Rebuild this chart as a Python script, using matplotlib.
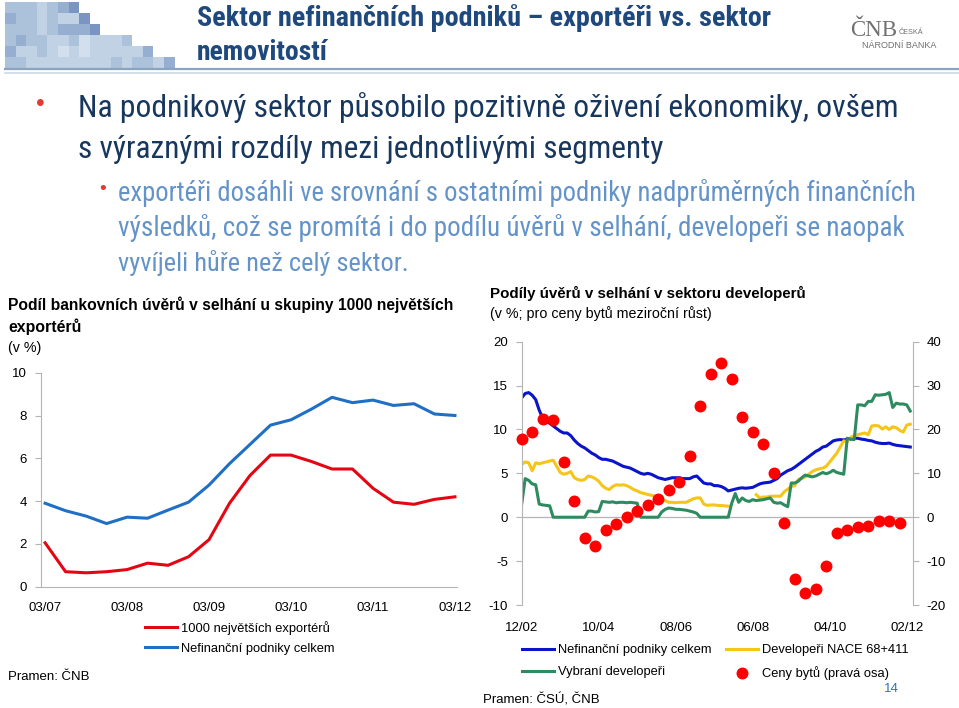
import numpy as np
import matplotlib.pyplot as plt
from matplotlib import font_manager
from matplotlib.patches import Rectangle
from matplotlib.lines import Line2D

W, H = 959, 708

# left chart - quarterly, 03/07 .. 03/12
q_ticks = ["03/07", "03/08", "03/09", "03/10", "03/11", "03/12"]
exporters = [2.05, 0.7, 0.65, 0.7, 0.8, 1.1, 1.0, 1.4, 2.2, 3.9, 5.2, 6.15, 6.15,
             5.85, 5.5, 5.5, 4.6, 3.95, 3.85, 4.08, 4.2]
nfc_total_q = [3.9, 3.55, 3.3, 2.95, 3.25, 3.2, 3.58, 3.95, 4.75, 5.75, 6.65, 7.55,
               7.8, 8.3, 8.85, 8.6, 8.72, 8.47, 8.55, 8.07, 8.0]

# right chart - monthly from 12/02
m_ticks = ["12/02", "10/04", "08/06", "06/08", "04/10", "02/12"]
nfc_total_m = [13.6, 14.1, 14.2, 13.9, 13.4, 12.2, 11.3, 10.9, 10.7, 10.4,
               10.1, 9.8, 9.6, 9.6, 9.3, 8.8, 8.4, 8.1, 7.9, 7.6,
               7.3, 7.1, 6.8, 6.6, 6.6, 6.5, 6.4, 6.2, 6.0, 5.8,
               5.7, 5.6, 5.4, 5.2, 5.0, 4.9, 5.0, 4.9, 4.7, 4.5,
               4.4, 4.3, 4.4, 4.5, 4.5, 4.5, 4.4, 4.4, 4.4, 4.6,
               4.7, 4.3, 3.9, 3.8, 3.8, 3.6, 3.6, 3.5, 3.3, 3.0,
               3.1, 3.2, 3.3, 3.35, 3.3, 3.35, 3.4, 3.6, 3.8, 3.9,
               3.95, 4.0, 4.2, 4.4, 4.8, 5.05, 5.3, 5.45, 5.7, 6.0,
               6.3, 6.6, 6.9, 7.2, 7.5, 7.7, 8.0, 8.1, 8.4, 8.7,
               8.8, 8.85, 8.8, 8.9, 8.9, 9.0, 9.0, 8.9, 8.85, 8.75,
               8.7, 8.55, 8.45, 8.4, 8.4, 8.45, 8.3, 8.2, 8.15, 8.1,
               8.05, 8.0]
nace = [6.0, 6.3, 6.2, 5.3, 6.2, 6.1, 6.2, 6.3, 6.4, 6.5,
        5.8, 5.1, 4.9, 5.0, 5.2, 4.5, 4.3, 4.2, 4.3, 4.7,
        4.6, 4.4, 4.1, 3.6, 3.3, 3.15, 3.5, 3.7, 3.65, 3.7,
        3.6, 3.4, 3.15, 3.0, 2.8, 2.7, 2.6, 2.5, 2.4, 2.2,
        2.0, 1.9, 1.7, 1.7, 1.65, 1.7, 1.7, 1.7, 1.9, 2.1,
        2.2, 2.2, 1.5, 1.35, 1.4, 1.4, 1.35, 1.33, 1.3, 1.26,
        np.nan, np.nan, np.nan, np.nan, np.nan, np.nan, np.nan, 2.57, 2.2, 2.3,
        2.3, 2.4, 2.4, 2.4, 2.4, 2.9, 3.2, 3.5, 3.6, 4.3,
        4.4, 4.6, 4.9, 5.2, 5.4, 5.5, 5.6, 5.8, 6.3, 6.8,
        7.3, 8.0, 8.7, 8.6, 9.1, 9.3, 9.4, 9.5, 9.6, 9.4,
        10.4, 10.45, 10.4, 10.05, 10.3, 10.0, 10.3, 10.2, 9.9, 9.7,
        10.5, 10.6]
selected = [1.5, 4.4, 4.2, 3.8, 3.7, 1.5, 1.4, 1.35, 1.3, 0,
            0, 0, 0, 0, 0, 0, 0, 0, 0, 0.7,
            0.7, 0.6, 0.65, 1.8, 1.75, 1.7, 1.75, 1.65, 1.7, 1.7,
            1.65, 1.7, 1.65, 1.6, 0, 0, 0, 0, 0, 0,
            0.6, 0.9, 1.05, 1.0, 0.9, 0.9, 0.85, 0.8, 0.7, 0.6,
            0.45, 0, 0, 0, 0, 0, 0, 0, 0, 0,
            1.6, 2.7, 1.7, 2.2, 1.9, 1.8, 2.0, 1.9, 1.95, 2.0,
            2.1, 2.2, 1.7, 1.6, 1.65, 1.4, 1.2, 3.9, 3.9, 4.1,
            4.5, 4.8, 4.7, 4.6, 4.7, 4.9, 5.1, 4.95, 5.1, 5.35,
            5.1, 5.0, 4.9, 9.0, 8.9, 8.85, 12.8, 12.8, 12.7, 13.2,
            13.2, 13.95, 13.9, 13.95, 14.0, 14.2, 12.5, 13.0, 12.9, 12.9,
            12.8, 12.1]
# house prices, y/y, quarterly (right axis)
prices = [17.8, 19.4, 22.4, 22.2, 12.6, 3.8, -4.7, -6.6, -3.0, -1.5, 0.0, 1.5, 2.7,
          4.25, 6.3, 8.0, 14.0, 25.3, 32.7, 35.2, 31.4, 22.9, 19.4, 16.7, 10.1, -1.4,
          -14.0, -17.2, -16.3, -11.2, -3.7, -2.8, -2.2, -2.05, -0.9, -0.75, -1.3]

# a condensed face for the slide text, if one is installed
narrow = {"family": "Liberation Sans"}
for f in font_manager.fontManager.ttflist:
    if f.name in ("Liberation Sans Narrow", "Arial Narrow", "Roboto Condensed"):
        narrow = {"family": f.name}
        break
else:
    for f in font_manager.fontManager.ttflist:
        fn = f.fname.lower()
        if ("condensed" in fn or "narrow" in fn) and "mono" not in fn and "extra" not in fn \
                and "semi" not in fn and "serif" not in fn:
            narrow = {"family": f.name, "fontstretch": f.stretch}
            break

plt.rcParams["font.family"] = ["Liberation Sans", "DejaVu Sans"]
plt.rcParams["font.size"] = 9
plt.rcParams["axes.unicode_minus"] = False

fig = plt.figure(figsize=(W / 100, H / 100), dpi=100)
renderer = fig.canvas.get_renderer()


def put(x, y, s, size, width=None, **kw):
    t = fig.text(x / W, 1 - y / H, s, fontsize=size, va="center", **kw)
    if width:
        bb = t.get_window_extent(renderer)
        t.set_fontsize(size * width / bb.width)
    return t


# header mosaic
shades = ["#d3dfec", "#c2d2e5", "#acc2db", "#96afd0", "#7a95c1"]
mosaic = ["2221234", "32212114", "222123334", "232211201112",
          "31121010111113", "2211111111212213"]
for r, row in enumerate(mosaic):
    for c, k in enumerate(row):
        fig.add_artist(Rectangle((5 / W + c * 10.6 / W, 1 - (2 + (r + 1) * 11.1) / H),
                                 10.6 / W, 11.1 / H, color=shades[int(k)], lw=0))
fig.add_artist(Line2D([5 / W, 1], [1 - 69 / H] * 2, color="#8aa4c0", lw=1.6))
fig.add_artist(Line2D([5 / W, 1], [1 - 72.5 / H] * 2, color="#cdd9e6", lw=1.2))

navy = "#1f497d"
put(197, 18, "Sektor nefinančních podniků – exportéři vs. sektor", 20, width=573,
    weight="bold", color=navy, **narrow)
put(197, 53, "nemovitostí", 20, width=131, weight="bold", color=navy, **narrow)

# logo
put(850, 31, "ČNB", 19, width=47, family="Liberation Serif", color="#707070")
put(899, 32, "ČESKÁ", 5.2, color="#707070")
put(862, 46, "NÁRODNÍ BANKA", 5.5, width=75, color="#707070")

# bullets
put(36, 104, "•", 18, color="#e03c31")
put(78, 108, "Na podnikový sektor působilo pozitivně oživení ekonomiky, ovšem", 22,
    width=822, color="#17375e", **narrow)
put(78, 150, "s výraznými rozdíly mezi jednotlivými segmenty", 22, width=587,
    color="#17375e", **narrow)
put(99, 189, "•", 14, color="#e03c31")
light = "#6393c8"
put(118, 193, "exportéři dosáhli ve srovnání s ostatními podniky nadprůměrných finančních",
    18, width=799, color=light, **narrow)
put(118, 228, "výsledků, což se promítá i do podílu úvěrů v selhání, developeři se naopak",
    18, width=785, color=light, **narrow)
put(118, 263, "vyvíjeli hůře než celý sektor.", 18, width=292, color=light, **narrow)

# chart titles
put(8, 305, "Podíl bankovních úvěrů v selhání u skupiny 1000 největších", 10.5,
    width=448, weight="bold")
put(8, 327, "exportérů", 10.5, width=74, weight="bold")
put(8, 348, "(v %)", 10.3)
put(490, 293, "Podíly úvěrů v selhání v sektoru developerů", 10.5, width=318, weight="bold")
put(490, 314, "(v %; pro ceny bytů meziroční růst)", 10.3)

grey = "#b4b4b4"

# left chart
ax = fig.add_axes([41 / W, 1 - 586.7 / H, 416 / W, 214 / H])
xq = np.arange(len(exporters))
ax.plot(xq, nfc_total_q, color="#1f6fc5", lw=2.2)
ax.plot(xq, exporters, color="#e30613", lw=2.2)
ax.set_xlim(-0.2, 20.1)
ax.set_ylim(0, 10)
ax.set_yticks(np.arange(0, 11, 2))
ax.set_xticks(xq[::4])
ax.set_xticklabels(q_ticks)
for s in ["top", "right"]:
    ax.spines[s].set_visible(False)
for s in ["left", "bottom"]:
    ax.spines[s].set_color(grey)
ax.tick_params(axis="y", length=4, color=grey, pad=6, labelsize=9.5)
ax.tick_params(axis="x", length=0, pad=11, labelsize=9.5)

lh = [Line2D([], [], color="#e30613", lw=2.2), Line2D([], [], color="#1f6fc5", lw=2.2)]
fig.legend(lh, ["1000 největších exportérů", "Nefinanční podniky celkem"],
           loc="upper left", bbox_to_anchor=(145 / W, 1 - 621 / H), frameon=False,
           fontsize=9.3, handlelength=2.5, handletextpad=0.3, labelspacing=0.62,
           borderpad=0, borderaxespad=0)
put(8, 677, "Pramen: ČNB", 9.5)

# right chart
ax2 = fig.add_axes([521.7 / W, 1 - 605 / H, 391 / W, 263.3 / H])
xm = np.arange(len(nfc_total_m))
ax2.axhline(0, color=grey, lw=0.9)
ax2.plot(xm, nfc_total_m, color="#0a14c8", lw=2.2)
ax2.plot(xm, nace, color="#f5c518", lw=2.2)
ax2.plot(xm, selected, color="#2e8b5f", lw=2.2)
ax2.set_xlim(0, 111.7)
ax2.set_ylim(-10, 20)
ax2.set_yticks(np.arange(-10, 21, 5))
ax2.set_xticks(xm[::22])
ax2.set_xticklabels(m_ticks)
for s in ["top", "right", "bottom"]:
    ax2.spines[s].set_visible(False)
ax2.spines["left"].set_color(grey)
ax2.tick_params(axis="y", length=4, color=grey, pad=6, labelsize=9.5)
ax2.tick_params(axis="x", length=0, pad=12, labelsize=9.5)

ax3 = ax2.twinx()
xp = np.arange(len(prices)) * 3
ax3.plot(xp, prices, "o", color="#ff0000", ms=8.6, mec="none", clip_on=False)
ax3.set_ylim(-20, 40)
ax3.set_yticks(np.arange(-20, 41, 10))
for s in ["top", "left", "bottom"]:
    ax3.spines[s].set_visible(False)
ax3.spines["right"].set_color(grey)
ax3.tick_params(axis="y", length=4, color=grey, pad=6, labelsize=9.5)

rh = [Line2D([], [], color="#0a14c8", lw=2.2), Line2D([], [], color="#2e8b5f", lw=2.2),
      Line2D([], [], color="#f5c518", lw=2.2),
      Line2D([], [], ls="none", marker="o", color="#ff0000", ms=8.6, mec="none")]
fig.legend(rh, ["Nefinanční podniky celkem", "Vybraní developeři",
                "Developeři NACE 68+411", "Ceny bytů (pravá osa)"],
           ncol=2, loc="upper left", bbox_to_anchor=(522 / W, 1 - 644 / H),
           frameon=False, fontsize=9.3, handlelength=2.5, handletextpad=0.3,
           labelspacing=0.78, columnspacing=1.1, borderpad=0, borderaxespad=0)
put(884, 689, "14", 9.5, color="#2e75b6")
put(483, 700, "Pramen: ČSÚ, ČNB", 9.5)

fig.savefig("out.png", dpi=100)
